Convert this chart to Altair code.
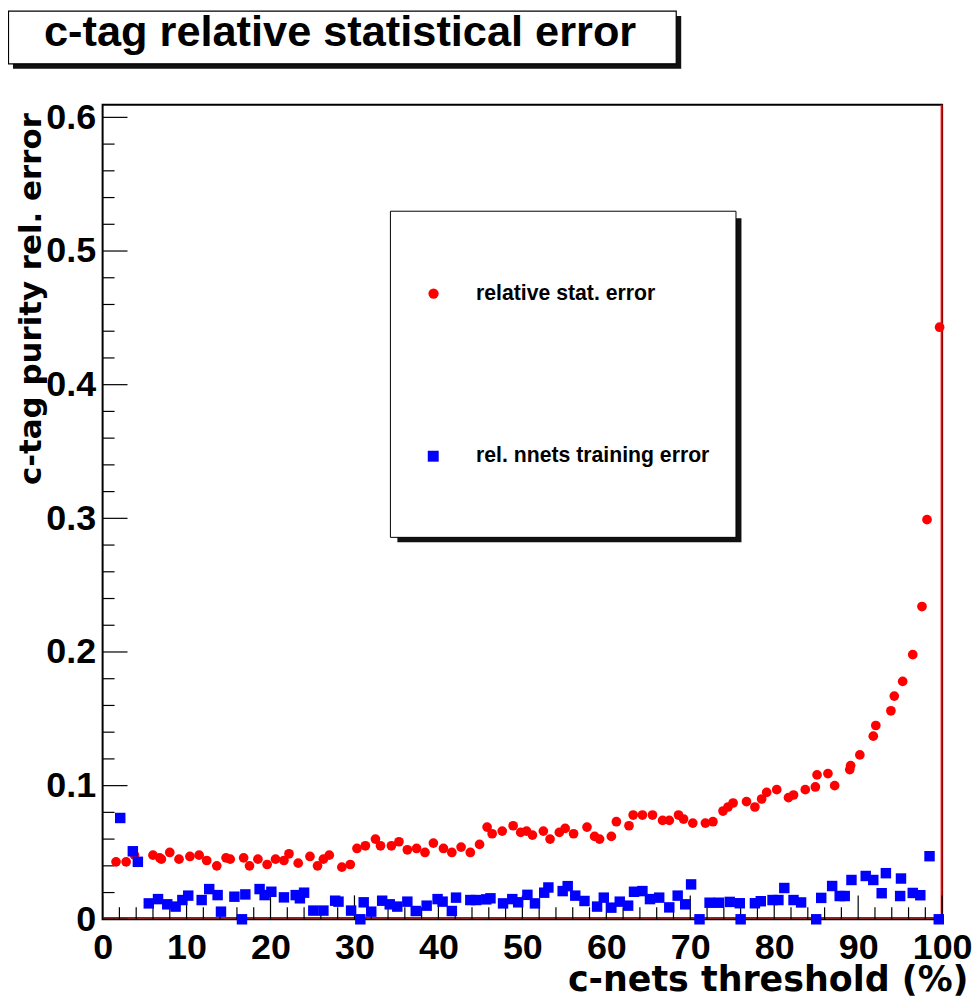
import altair as alt
import pandas as pd

# ---- data ----
red_x = [1.6, 2.8, 3.8, 6.0, 6.8, 7.0, 8.0, 9.1, 10.4, 11.5, 12.4, 13.6, 14.7, 15.2, 16.8,
         17.5, 18.5, 19.6, 20.6, 21.6, 22.2, 23.3, 24.7, 25.6, 26.3, 27.0, 28.5, 29.5, 30.3,
         31.3, 32.5, 33.1, 34.4, 35.3, 36.3, 37.4, 38.4, 39.4, 40.6, 41.6, 42.7, 43.8, 44.9,
         45.8, 46.4, 47.6, 48.9, 49.8, 50.5, 51.2, 52.5, 53.3, 54.4, 55.1, 56.1, 57.7, 58.6,
         59.2, 60.6, 61.2, 62.7, 63.2, 64.3, 65.5, 66.7, 67.5, 68.6, 69.2, 70.3, 71.8, 72.7,
         73.9, 74.5, 75.1, 76.7, 77.7, 78.5, 79.1, 80.3, 81.7, 82.3, 83.7, 84.9, 85.1, 86.4,
         87.2, 89.0, 89.1, 90.2, 91.8, 92.1, 93.9, 94.3, 95.3, 96.5, 97.6, 98.2, 99.7]
red_y = [0.043, 0.043, 0.048, 0.048, 0.046, 0.045, 0.050, 0.045, 0.047, 0.048, 0.044, 0.040,
         0.046, 0.045, 0.046, 0.040, 0.045, 0.041, 0.045, 0.044, 0.049, 0.042, 0.047, 0.040,
         0.045, 0.048, 0.039, 0.041, 0.053, 0.055, 0.060, 0.055, 0.055, 0.058, 0.052, 0.053,
         0.050, 0.057, 0.053, 0.050, 0.054, 0.050, 0.056, 0.069, 0.064, 0.066, 0.070, 0.065,
         0.066, 0.063, 0.066, 0.060, 0.065, 0.068, 0.064, 0.069, 0.062, 0.060, 0.062, 0.073,
         0.070, 0.078, 0.078, 0.078, 0.074, 0.074, 0.078, 0.075, 0.072, 0.072, 0.073, 0.081,
         0.084, 0.087, 0.088, 0.084, 0.090, 0.095, 0.097, 0.091, 0.093, 0.097, 0.099, 0.108,
         0.109, 0.100, 0.112, 0.115, 0.123, 0.137, 0.145, 0.156, 0.167, 0.178, 0.198, 0.234,
         0.299, 0.443]

blue_x = [2.1, 3.6, 4.2, 5.5, 6.6, 7.7, 8.7, 9.5, 10.2, 11.8, 12.7, 13.7, 14.1, 15.7, 16.6,
          17.0, 18.7, 19.3, 20.1, 21.6, 23.0, 23.5, 24.0, 25.1, 26.3, 27.7, 28.1, 29.6, 30.7,
          31.1, 32.0, 33.3, 34.2, 35.1, 36.3, 37.3, 38.6, 39.9, 40.5, 41.6, 42.1, 43.8, 44.5,
          45.7, 46.2, 47.7, 48.8, 49.5, 50.6, 51.5, 52.6, 53.1, 54.8, 55.4, 56.3, 57.4, 58.9,
          59.7, 60.6, 61.6, 62.6, 63.3, 64.3, 65.2, 66.3, 67.5, 68.5, 69.4, 70.1, 71.1, 72.3,
          73.4, 74.7, 75.9, 76.0, 77.7, 78.4, 79.8, 80.5, 81.2, 82.3, 83.2, 85.0, 85.6, 86.9,
          87.8, 88.4, 89.2, 90.9, 91.8, 92.8, 93.3, 95.0, 95.1, 96.5, 97.4, 98.5, 99.6]
blue_y = [0.0758, 0.0509, 0.0430, 0.0119, 0.0151, 0.0112, 0.0095, 0.0144, 0.0177, 0.0144,
          0.0226, 0.0181, 0.0057, 0.0169, 0.0, 0.0186, 0.0226, 0.0181, 0.0206, 0.0164, 0.0181,
          0.0157, 0.0199, 0.0065, 0.0065, 0.0139, 0.0132, 0.0065, 0.0, 0.0127, 0.0057, 0.0139,
          0.0112, 0.0095, 0.0132, 0.0062, 0.0102, 0.0151, 0.0132, 0.0062, 0.0162, 0.0144,
          0.0144, 0.0149, 0.0157, 0.0119, 0.0151, 0.0127, 0.0183, 0.0119, 0.0199, 0.0238,
          0.0211, 0.0248, 0.0177, 0.0137, 0.0095, 0.0162, 0.0087, 0.0132, 0.0102, 0.0206,
          0.0211, 0.0151, 0.0162, 0.0089, 0.0177, 0.0112, 0.0261, 0.0, 0.0124, 0.0124, 0.0130,
          0.0120, 0.0, 0.0120, 0.0135, 0.0144, 0.0144, 0.0234, 0.0144, 0.0126, 0.0, 0.0160,
          0.0249, 0.0174, 0.0174, 0.0294, 0.0324, 0.0294, 0.0195, 0.0345, 0.0174, 0.0305,
          0.0197, 0.0180, 0.0472, 0.0]

x_labels = [0, 10, 20, 30, 40, 50, 60, 70, 80, 90, 100]
y_labels = [0, 0.1, 0.2, 0.3, 0.4, 0.5, 0.6]
x_minor = [v for v in range(0, 101, 2) if v % 10 != 0]
y_minor = [0.02, 0.04, 0.06, 0.08, 0.12, 0.14, 0.16, 0.18, 0.22, 0.24, 0.26, 0.28,
           0.32, 0.34, 0.36, 0.38, 0.42, 0.44, 0.46, 0.48, 0.52, 0.54, 0.56, 0.58]

title_text = "c-tag relative statistical error"
legend_labels = ["relative stat. error", "rel. nnets training error"]
x_title = "c-nets threshold (%)"
y_title = "c-tag purity rel. error"

W, H = 843, 818
BOLD = "Liberation Sans"
WIDE = "DejaVu Sans"

red_df = pd.DataFrame({"x": red_x, "y": red_y})
blue_df = pd.DataFrame({"x": blue_x, "y": blue_y})
one = alt.Data(values=[{"k": 1}])

X = alt.X("x:Q", scale=alt.Scale(domain=[0, 100], nice=False, zero=False),
          axis=alt.Axis(title=x_title, values=x_labels, format="d", ticks=False, domain=False,
                        grid=False, labelFont=BOLD, labelFontWeight="bold", labelFontSize=36,
                        labelColor="black", labelPadding=39, labelBaseline="alphabetic",
                        labelFlush=False, labelOverlap=False,
                        titleFont=WIDE, titleFontWeight="bold", titleFontSize=35,
                        titleColor="black", titleX=W + 26, titleY=72, titleAlign="right",
                        titleAnchor="end", titleBaseline="alphabetic"))
Y = alt.Y("y:Q", scale=alt.Scale(domain=[0, 0.6095], nice=False, zero=False),
          axis=alt.Axis(title=y_title, values=y_labels,
                        labelExpr="datum.value == 0 ? '0' : format(datum.value, '.1f')",
                        ticks=False, domain=False, grid=False, labelFont=BOLD,
                        labelFontWeight="bold", labelFontSize=36, labelColor="black",
                        labelPadding=7, labelAlign="right", labelBaseline="middle",
                        labelOverlap=False, labelFlush=False,
                        titleFont=WIDE, titleFontWeight="bold", titleFontSize=31,
                        titleColor="black", titleAngle=270, titleX=-62, titleY=8,
                        titleAlign="right", titleAnchor="end", titleBaseline="alphabetic"))

# ticks drawn inside the frame (ROOT style)
xmaj = alt.Chart(pd.DataFrame({"x": x_labels})).mark_rule(color="black", strokeWidth=1.2).encode(
    x=X, y=alt.value(H), y2=alt.value(H - 24))
xmin = alt.Chart(pd.DataFrame({"x": x_minor})).mark_rule(color="black", strokeWidth=1.2).encode(
    x=X, y=alt.value(H), y2=alt.value(H - 12))
ymaj = alt.Chart(pd.DataFrame({"y": y_labels})).mark_rule(color="black", strokeWidth=1.2).encode(
    y=Y, x=alt.value(0), x2=alt.value(25))
ymin = alt.Chart(pd.DataFrame({"y": y_minor})).mark_rule(color="black", strokeWidth=1.2).encode(
    y=Y, x=alt.value(0), x2=alt.value(12))

red_h = alt.Chart(one).mark_rule(color="#e00000", strokeWidth=1.5).encode(
    x=alt.value(0), x2=alt.value(W), y=alt.value(H - 1.5))
red_v = alt.Chart(one).mark_rule(color="#ff0000", strokeWidth=2).encode(
    x=alt.value(W - 0.5), y=alt.value(0), y2=alt.value(H))

red_pts = alt.Chart(red_df).mark_point(shape="circle", filled=True, size=95, color="#ff0000",
                                       opacity=1).encode(x=X, y=Y)
blue_pts = alt.Chart(blue_df).mark_point(shape="square", filled=True, size=110, color="#0000ff",
                                         opacity=1).encode(x=X, y=Y)

# title box
t_shadow = alt.Chart(one).mark_rect(color="#111111").encode(
    x=alt.value(-90), x2=alt.value(581), y=alt.value(-89), y2=alt.value(-36))
t_box = alt.Chart(one).mark_rect(fill="white", stroke="black", strokeWidth=1.2).encode(
    x=alt.value(-94.5), x2=alt.value(576), y=alt.value(-94), y2=alt.value(-41))
t_text = alt.Chart(one).mark_text(text=title_text, font=BOLD, fontWeight="bold", fontSize=43.5,
                                  align="center", baseline="alphabetic", color="black").encode(
    x=alt.value(238.5), y=alt.value(-59))

# legend box
l_shadow = alt.Chart(one).mark_rect(color="#111111").encode(
    x=alt.value(296), x2=alt.value(641.5), y=alt.value(114), y2=alt.value(439.5))
l_box = alt.Chart(one).mark_rect(fill="white", stroke="black", strokeWidth=1).encode(
    x=alt.value(289), x2=alt.value(636), y=alt.value(107), y2=alt.value(434.5))
l_red = alt.Chart(one).mark_point(shape="circle", filled=True, size=107, color="#ff0000",
                                  opacity=1).encode(x=alt.value(332.3), y=alt.value(189.7))
l_blue = alt.Chart(one).mark_point(shape="square", filled=True, size=121, color="#0000ff",
                                   opacity=1).encode(x=alt.value(332), y=alt.value(353))
l_t1 = alt.Chart(one).mark_text(text=legend_labels[0], font=BOLD, fontWeight="bold", fontSize=21.3,
                                align="left", baseline="alphabetic", color="black").encode(
    x=alt.value(375), y=alt.value(196))
l_t2 = alt.Chart(one).mark_text(text=legend_labels[1], font=BOLD, fontWeight="bold", fontSize=21.3,
                                align="left", baseline="alphabetic", color="black").encode(
    x=alt.value(375), y=alt.value(359))

chart = alt.layer(
    red_h, red_v, xmaj, xmin, ymaj, ymin, red_pts, blue_pts,
    t_shadow, t_box, t_text, l_shadow, l_box, l_red, l_blue, l_t1, l_t2
).properties(
    width=W, height=H,
    padding={"left": 95, "top": 95, "right": 30, "bottom": 85},
    autosize=alt.AutoSizeParams(type="none"),
    background="white",
).configure_view(stroke="black", strokeWidth=2)

chart.save("out.html", embed_options={"renderer": "svg", "actions": False})
